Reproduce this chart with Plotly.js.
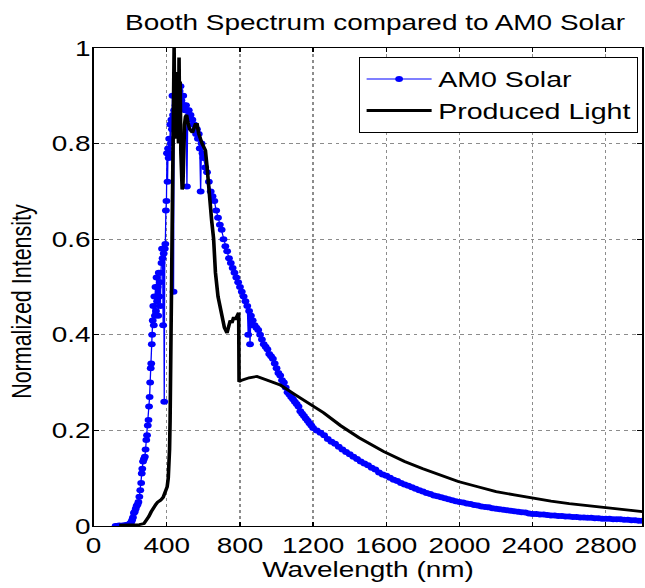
<!DOCTYPE html>
<html>
<head>
<meta charset="utf-8">
<script src="https://cdn.plot.ly/plotly-3.0.1.min.js"></script>
<style>
html,body{margin:0;padding:0;background:#fff;overflow:hidden;}
#wrap{width:645px;height:588px;overflow:hidden;position:relative;}
#chart{width:496px;height:588px;transform:scaleX(1.3004);transform-origin:0 0;}
</style>
</head>
<body>
<div id="wrap"><div id="chart"></div></div>
<script>
// AM0 Solar spectrum (normalized)
var amWavelength = [120,130,140,150,160,170,180,190,200,205,210,215,220,225,230,235,240,245,250,255,260,263,266,270,275,280,284,288,292,296,300,303,306,309,312,315,318,320,323,326,329,332,335,338,341,344,347,350,353,356,359,362,365,368,371,374,377,380,383,386,389,392,395,398,401,404,407,410,413,416,419,422,425,428,431,434,437,440,444,448,452,456,460,465,470,475,480,485,490,495,500,505,510,515,520,525,530,535,540,545,550,555,560,565,570,575,580,585,590,595,600,610,620,630,640,650,660,670,680,690,700,710,720,730,740,750,760,770,780,790,800,810,820,830,840,845,850,855,860,865,870,880,890,900,910,920,930,940,950,960,970,980,990,1000,1010,1020,1030,1040,1050,1060,1070,1080,1090,1100,1110,1120,1130,1140,1150,1160,1170,1180,1190,1200,1220,1240,1260,1280,1300,1320,1340,1360,1380,1400,1420,1440,1460,1480,1500,1520,1540,1560,1580,1600,1620,1640,1660,1680,1700,1720,1740,1760,1780,1800,1820,1840,1860,1880,1900,1920,1940,1960,1980,2000,2020,2040,2060,2080,2100,2120,2140,2160,2180,2200,2220,2240,2260,2280,2300,2320,2340,2360,2380,2400,2420,2440,2460,2480,2500,2520,2540,2560,2580,2600,2620,2640,2660,2680,2700,2720,2740,2760,2780,2800,2820,2840,2860,2880,2900,2920,2940,2960,2980,3000];
var amIntensity = [0,0,0.001,0,0.001,0.001,0.002,0.003,0.005,0.008,0.012,0.018,0.027,0.03,0.036,0.042,0.045,0.05,0.061,0.075,0.09,0.11,0.12,0.135,0.14,0.145,0.16,0.18,0.19,0.21,0.222,0.25,0.27,0.30,0.33,0.34,0.38,0.40,0.43,0.46,0.42,0.48,0.44,0.50,0.45,0.52,0.47,0.50,0.44,0.53,0.48,0.51,0.46,0.53,0.55,0.58,0.56,0.42,0.57,0.26,0.58,0.59,0.66,0.68,0.78,0.72,0.79,0.77,0.81,0.78,0.84,0.80,0.85,0.83,0.90,0.86,0.49,0.87,0.86,0.88,0.89,0.87,0.90,0.89,0.91,0.92,0.89,0.90,0.90,0.88,0.87,0.88,0.71,0.87,0.87,0.86,0.86,0.85,0.85,0.84,0.84,0.83,0.82,0.83,0.81,0.82,0.79,0.70,0.80,0.78,0.77,0.75,0.74,0.72,0.70,0.69,0.68,0.66,0.645,0.63,0.62,0.60,0.585,0.575,0.56,0.55,0.54,0.53,0.52,0.51,0.50,0.49,0.48,0.47,0.46,0.40,0.45,0.38,0.44,0.42,0.43,0.42,0.415,0.41,0.40,0.39,0.38,0.375,0.37,0.36,0.355,0.35,0.34,0.33,0.32,0.315,0.305,0.30,0.29,0.28,0.275,0.27,0.265,0.26,0.255,0.25,0.24,0.235,0.23,0.225,0.22,0.215,0.21,0.205,0.20,0.195,0.19,0.182,0.176,0.172,0.166,0.16,0.155,0.15,0.145,0.14,0.135,0.131,0.127,0.122,0.118,0.112,0.108,0.105,0.101,0.097,0.094,0.09,0.087,0.084,0.081,0.078,0.075,0.072,0.069,0.067,0.064,0.062,0.06,0.058,0.056,0.054,0.052,0.05,0.049,0.047,0.046,0.044,0.043,0.041,0.04,0.039,0.037,0.036,0.035,0.034,0.033,0.032,0.031,0.03,0.029,0.028,0.026,0.025,0.025,0.024,0.024,0.023,0.022,0.022,0.021,0.021,0.02,0.02,0.019,0.019,0.018,0.018,0.017,0.017,0.016,0.016,0.015,0.015,0.015,0.014,0.014,0.014,0.013,0.013,0.012,0.012,0.011,0.011];

// Produced light (booth lamp) spectrum
var lightWavelength = [140,200,250,275,290,302,315,329,340,350,366,380,395,402,408,411,415,418,420,422,425,428,432,436,440,444,447,450,453,456,460,464,467,470,473,477,480,484,488,492,497,502,508,515,525,540,556,566,575,593,611,620,630,645,656,666,680,700,715,729,740,747,756,766,775,784,793,795,810,850,893,950,1020,1100,1200,1257,1350,1450,1584,1700,1800,1993,2100,2200,2300,2402,2500,2600,2700,2802,2900,3000];
var lightIntensity = [0.002,0.002,0.003,0.005,0.012,0.02,0.03,0.04,0.045,0.05,0.054,0.06,0.075,0.082,0.10,0.117,0.16,0.22,0.30,0.335,0.45,0.62,0.75,0.90,1.0,0.82,0.95,0.81,0.92,0.84,0.88,0.80,0.98,0.85,0.93,0.78,0.72,0.704,0.71,0.80,0.84,0.856,0.86,0.845,0.83,0.823,0.84,0.84,0.82,0.80,0.786,0.752,0.70,0.64,0.60,0.53,0.48,0.44,0.415,0.404,0.42,0.43,0.425,0.437,0.432,0.44,0.446,0.302,0.305,0.31,0.313,0.305,0.295,0.275,0.25,0.237,0.21,0.185,0.156,0.135,0.12,0.093,0.082,0.072,0.065,0.058,0.052,0.047,0.043,0.039,0.034,0.03];

var xTicks = [0,400,800,1200,1600,2000,2400,2800];
var yTicks = [0,0.2,0.4,0.6,0.8,1];
var yTickText = ['0','0.2','0.4','0.6','0.8','1'];

var FONT = 'Liberation Sans, Arial, sans-serif';

var traces = [
  {x: amWavelength, y: amIntensity, name: 'AM0 Solar', type: 'scatter', mode: 'lines+markers',
   legendgroup: 'a', line: {color: '#0000ff', width: 1}, marker: {color: '#0000ff', size: 6}},
  {x: lightWavelength, y: lightIntensity, name: 'Produced Light', type: 'scatter', mode: 'lines',
   legendgroup: 'b', line: {color: '#000000', width: 2.8}}
];

var axisCommon = {
  showline: true, linecolor: '#000', linewidth: 1, mirror: 'ticks',
  ticks: 'inside', ticklen: 4, tickcolor: '#000', tickwidth: 1,
  showgrid: true, gridcolor: '#8c8c8c', griddash: 'dot', gridwidth: 1,
  zeroline: false, tickfont: {family: FONT, size: 21.5, color: '#000'}
};

var layout = {
  width: 496, height: 588,
  margin: {l: 71.5, r: 1.5, t: 48, b: 62},
  paper_bgcolor: '#fff', plot_bgcolor: '#fff',
  font: {family: FONT, color: '#000'},
  title: {text: 'Booth Spectrum compared to AM0 Solar', font: {family: FONT, size: 21.5, color: '#000'},
          x: 0.5816, xanchor: 'center', y: 0.9626, yanchor: 'middle'},
  xaxis: Object.assign({}, axisCommon, {range: [0, 3000], tickvals: xTicks, ticktext: xTicks.map(String),
          title: {text: 'Wavelength (nm)', font: {family: FONT, size: 21.5, color: '#000'}, standoff: 5}}),
  yaxis: Object.assign({}, axisCommon, {range: [0, 1], tickvals: yTicks, ticktext: yTickText,
          ticklabelstandoff: -3}),
  annotations: [{text: 'Normalized Intensity', textangle: -90, xref: 'paper', yref: 'paper',
          x: -0.129, y: 0.47, xanchor: 'center', yanchor: 'middle', showarrow: false,
          font: {family: FONT, size: 21.5, color: '#000'}}],
  showlegend: true,
  legend: {x: 0.9927, xanchor: 'right', y: 0.981, yanchor: 'top', bgcolor: '#fff',
           bordercolor: '#000', borderwidth: 1, font: {family: FONT, size: 22, color: '#000'},
           itemwidth: 50, traceorder: 'grouped', tracegroupgap: 0}
};

Plotly.newPlot('chart', traces, layout, {displayModeBar: false, staticPlot: true});
</script>
</body>
</html>
